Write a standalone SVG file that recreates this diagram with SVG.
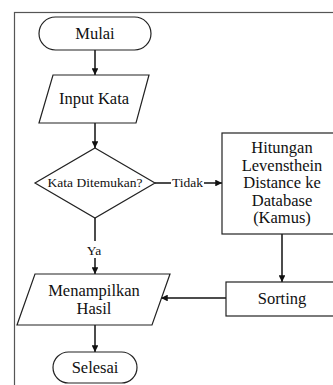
<svg xmlns="http://www.w3.org/2000/svg" width="333" height="385" viewBox="0 0 333 385">
<style>
.shape{fill:#fff;stroke:#222;stroke-width:1.2}
text{font-family:'Liberation Serif','Times New Roman','DejaVu Serif',serif;fill:#111;text-anchor:middle}
.t{font-size:16.5px}
.s{font-size:13.5px}
.c{fill:none;stroke:#111;stroke-width:1.5}
</style>
<defs>
<marker id="ah" viewBox="0 0 10 10" refX="10" refY="5" markerWidth="4.5" markerHeight="4.5" orient="auto" markerUnits="strokeWidth">
<path d="M0,0 L10,5 L0,10 z" fill="#111"/>
</marker>
</defs>
<rect x="14.5" y="12.5" width="400" height="400" fill="#fff" stroke="#555" stroke-width="1.2"/>
<g id="connectors">
<line class="c" x1="95" y1="50" x2="95" y2="75" marker-end="url(#ah)"/>
<line class="c" x1="95" y1="123" x2="95" y2="148" marker-end="url(#ah)"/>
<line class="c" x1="155" y1="183" x2="171" y2="183"/>
<text class="s" x="187.5" y="187" font-family="Liberation Serif, serif">Tidak</text>
<line class="c" x1="204" y1="183" x2="222" y2="183" marker-end="url(#ah)"/>
<line class="c" x1="95" y1="218" x2="95" y2="241"/>
<text class="s" x="94" y="255" font-family="Liberation Serif, serif">Ya</text>
<line class="c" x1="95" y1="258" x2="95" y2="274" marker-end="url(#ah)"/>
<line class="c" x1="282" y1="234" x2="282" y2="282" marker-end="url(#ah)"/>
<line class="c" x1="226" y1="298" x2="161" y2="298" marker-end="url(#ah)"/>
<line class="c" x1="95" y1="325" x2="95" y2="352" marker-end="url(#ah)"/>
</g>
<g id="mulai">
<rect class="shape" x="39" y="17" width="112" height="33" rx="16.5"/>
<text class="t" x="95" y="39">Mulai</text>
</g>
<g id="input">
<polygon class="shape" points="53,75 149,75 136,123 39,123"/>
<text class="t" x="94" y="104">Input Kata</text>
</g>
<g id="decision">
<polygon class="shape" points="95,148 155,183 95,218 35,183"/>
<text class="s" x="95" y="187">Kata Ditemukan?</text>
</g>
<g id="hitungan">
<rect class="shape" x="222" y="133" width="130" height="101"/>
<text class="t" x="282" y="153">Hitungan</text>
<text class="t" x="282" y="170.5">Levensthein</text>
<text class="t" x="282" y="188">Distance ke</text>
<text class="t" x="282" y="205.5">Database</text>
<text class="t" x="282" y="223">(Kamus)</text>
</g>
<g id="sorting">
<rect class="shape" x="226" y="282" width="115" height="34"/>
<text class="t" x="282" y="304">Sorting</text>
</g>
<g id="output">
<polygon class="shape" points="35,274 170,274 152,325 17,325"/>
<text class="t" x="94" y="296">Menampilkan</text>
<text class="t" x="94" y="313.5">Hasil</text>
</g>
<g id="selesai">
<rect class="shape" x="53" y="352" width="84" height="31" rx="15.5"/>
<text class="t" x="95" y="373">Selesai</text>
</g>
</svg>
